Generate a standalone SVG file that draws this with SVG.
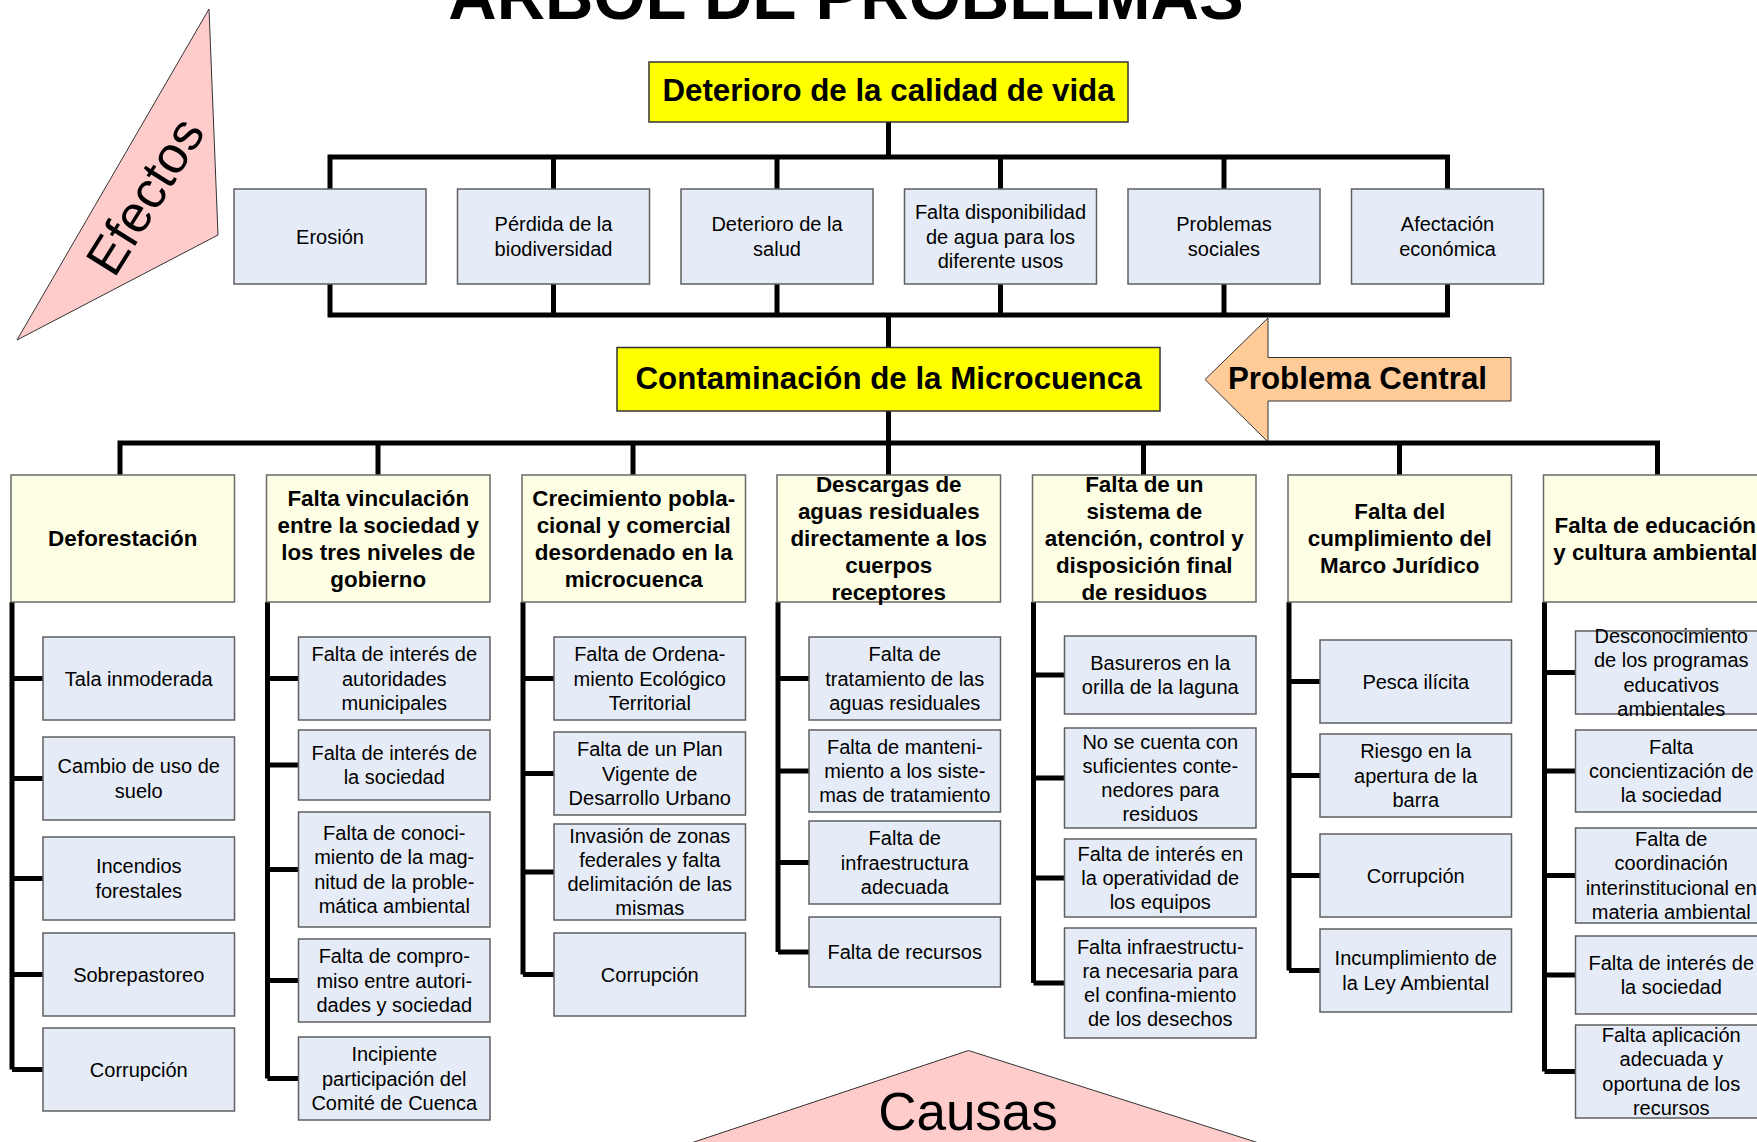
<svg xmlns="http://www.w3.org/2000/svg" width="1757" height="1142" viewBox="0 0 1757 1142">
<style>
text{font-family:"Liberation Sans",Arial,sans-serif;fill:#000;text-anchor:middle}
.eff{fill:#E6ECF7;stroke:#5f5f5f;stroke-width:1.5}
.hdr{fill:#FEFEE4;stroke:#6a6a6a;stroke-width:1.5}
.sub{fill:#E6ECF7;stroke:#5f5f5f;stroke-width:1.5}
.yel{fill:#FFFF00;stroke:#333;stroke-width:1.5}
.t20{font-size:20px}
.th{font-size:22.4px;font-weight:bold}
.tb{font-size:31.3px;font-weight:bold}
.con path{fill:none;stroke:#000;stroke-width:5;stroke-linejoin:miter}
</style>
<rect width="1757" height="1142" fill="#fff"/>

<text id="title" x="846" y="18.5" style="font-size:67px;font-weight:bold">ÁRBOL DE PROBLEMAS</text>

<g id="efectos">
<polygon points="209,9 218,235 17,340" fill="#FFCCCC" stroke="#333" stroke-width="1"/>
<g transform="translate(145,196) rotate(-58)"><text x="0" y="18" style="font-size:52px">Efectos</text></g>
</g>

<g id="causas">
<polygon points="968.5,1050.5 1306,1158 646,1158" fill="#FFCCCC" stroke="#333" stroke-width="1"/>
<text x="968" y="1130" style="font-size:53px">Causas</text>
</g>

<g id="problema-central">
<polygon points="1205,379.5 1268,318 1268,357.5 1511,357.5 1511,401 1268,401 1268,442" fill="#FFCC99" stroke="#333" stroke-width="1"/>
<text class="tb" x="1357.5" y="388.5">Problema Central</text>
</g>

<g class="con" id="connectors">
<path d="M888.5,122 V157"/>
<path d="M330,189 V157 H1447.5 V189"/>
<path d="M553.5,157 V189 M777,157 V189 M1000.5,157 V189 M1224,157 V189"/>
<path d="M330,284 V315 H1447.5 V284"/>
<path d="M553.5,284 V315 M777,284 V315 M1000.5,284 V315 M1224,284 V315"/>
<path d="M888.5,315 V347.5"/>
<path d="M888.5,411 V475"/>
<path d="M120,475 V443 H1657.5 V475"/>
<path d="M378,443 V475 M633,443 V475 M1143.5,443 V475 M1399.5,443 V475"/>
<!-- trunks and stubs -->
<path d="M12,602 V1069.5 M12,678.5 H43 M12,778.5 H43 M12,878.5 H43 M12,974.5 H43 M12,1069.5 H43"/>
<path d="M267.5,602 V1078.5 M267.5,678.5 H298.5 M267.5,765 H298.5 M267.5,869.5 H298.5 M267.5,980.5 H298.5 M267.5,1078.5 H298.5"/>
<path d="M523,602 V974.5 M523,678.5 H554 M523,773.5 H554 M523,872 H554 M523,974.5 H554"/>
<path d="M778,602 V952 M778,678.5 H809 M778,771 H809 M778,862.5 H809 M778,952 H809"/>
<path d="M1033.5,602 V983 M1033.5,675 H1064.5 M1033.5,778 H1064.5 M1033.5,878 H1064.5 M1033.5,983 H1064.5"/>
<path d="M1289,602 V970.5 M1289,681.5 H1320 M1289,775.5 H1320 M1289,875.5 H1320 M1289,970.5 H1320"/>
<path d="M1544.5,602 V1071.5 M1544.5,672.5 H1575.5 M1544.5,771 H1575.5 M1544.5,875.5 H1575.5 M1544.5,975 H1575.5 M1544.5,1071.5 H1575.5"/>
</g>

<g id="n-deterioro-vida">
<rect class="yel" x="649" y="62" width="479" height="60"/>
<text class="tb" x="888.5" y="100.5">Deterioro de la calidad de vida</text>
</g>

<g id="n-contaminacion">
<rect class="yel" x="617" y="347.5" width="543" height="63.5"/>
<text class="tb" x="888.5" y="388.5">Contaminación de la Microcuenca</text>
</g>

<!-- Effects -->
<g id="e-erosion"><rect class="eff" x="234" y="189" width="192" height="95"/>
<text class="t20" x="330" y="243.5">Erosión</text></g>
<g id="e-biodiversidad"><rect class="eff" x="457.5" y="189" width="192" height="95"/>
<text class="t20" x="553.5" y="231.3">Pérdida de la</text><text class="t20" x="553.5" y="255.8">biodiversidad</text></g>
<g id="e-salud"><rect class="eff" x="681" y="189" width="192" height="95"/>
<text class="t20" x="777" y="231.3">Deterioro de la</text><text class="t20" x="777" y="255.8">salud</text></g>
<g id="e-agua"><rect class="eff" x="904.5" y="189" width="192" height="95"/>
<text class="t20" x="1000.5" y="219">Falta disponibilidad</text><text class="t20" x="1000.5" y="243.5">de agua para los</text><text class="t20" x="1000.5" y="268">diferente usos</text></g>
<g id="e-sociales"><rect class="eff" x="1128" y="189" width="192" height="95"/>
<text class="t20" x="1224" y="231.3">Problemas</text><text class="t20" x="1224" y="255.8">sociales</text></g>
<g id="e-economica"><rect class="eff" x="1351.5" y="189" width="192" height="95"/>
<text class="t20" x="1447.5" y="231.3">Afectación</text><text class="t20" x="1447.5" y="255.8">económica</text></g>

<!-- Cause headers -->
<g id="c1"><rect class="hdr" x="11" y="475" width="223.5" height="127"/>
<text class="th" x="122.75" y="546.3">Deforestación</text></g>
<g id="c2"><rect class="hdr" x="266.5" y="475" width="223.5" height="127"/>
<text class="th" x="378.25" y="505.8">Falta vinculación</text><text class="th" x="378.25" y="532.8">entre la sociedad y</text><text class="th" x="378.25" y="559.8">los tres niveles de</text><text class="th" x="378.25" y="586.8">gobierno</text></g>
<g id="c3"><rect class="hdr" x="522" y="475" width="223.5" height="127"/>
<text class="th" x="633.75" y="505.8">Crecimiento pobla-</text><text class="th" x="633.75" y="532.8">cional y comercial</text><text class="th" x="633.75" y="559.8">desordenado en la</text><text class="th" x="633.75" y="586.8">microcuenca</text></g>
<g id="c4"><rect class="hdr" x="777" y="475" width="223.5" height="127"/>
<text class="th" x="888.75" y="492.3">Descargas de</text><text class="th" x="888.75" y="519.3">aguas residuales</text><text class="th" x="888.75" y="546.3">directamente a los</text><text class="th" x="888.75" y="573.3">cuerpos</text><text class="th" x="888.75" y="600.3">receptores</text></g>
<g id="c5"><rect class="hdr" x="1032.5" y="475" width="223.5" height="127"/>
<text class="th" x="1144.25" y="492.3">Falta de un</text><text class="th" x="1144.25" y="519.3">sistema de</text><text class="th" x="1144.25" y="546.3">atención, control y</text><text class="th" x="1144.25" y="573.3">disposición final</text><text class="th" x="1144.25" y="600.3">de residuos</text></g>
<g id="c6"><rect class="hdr" x="1288" y="475" width="223.5" height="127"/>
<text class="th" x="1399.75" y="519.3">Falta del</text><text class="th" x="1399.75" y="546.3">cumplimiento del</text><text class="th" x="1399.75" y="573.3">Marco Jurídico</text></g>
<g id="c7"><rect class="hdr" x="1543.5" y="475" width="223.5" height="127"/>
<text class="th" x="1655.25" y="532.8">Falta de educación</text><text class="th" x="1655.25" y="559.8">y cultura ambiental</text></g>

<!-- Column 1 -->
<g id="c1-1"><rect class="sub" x="43" y="637" width="191.5" height="83"/><text class="t20" x="138.75" y="685.5">Tala inmoderada</text></g>
<g id="c1-2"><rect class="sub" x="43" y="737" width="191.5" height="83"/><text class="t20" x="138.75" y="773.35">Cambio de uso de</text><text class="t20" x="138.75" y="797.65">suelo</text></g>
<g id="c1-3"><rect class="sub" x="43" y="837" width="191.5" height="83"/><text class="t20" x="138.75" y="873.35">Incendios</text><text class="t20" x="138.75" y="897.65">forestales</text></g>
<g id="c1-4"><rect class="sub" x="43" y="933" width="191.5" height="83"/><text class="t20" x="138.75" y="981.5">Sobrepastoreo</text></g>
<g id="c1-5"><rect class="sub" x="43" y="1028" width="191.5" height="83"/><text class="t20" x="138.75" y="1076.5">Corrupción</text></g>

<!-- Column 2 -->
<g id="c2-1"><rect class="sub" x="298.5" y="637" width="191.5" height="83"/><text class="t20" x="394.25" y="661.2">Falta de interés de</text><text class="t20" x="394.25" y="685.5">autoridades</text><text class="t20" x="394.25" y="709.8">municipales</text></g>
<g id="c2-2"><rect class="sub" x="298.5" y="730" width="191.5" height="70"/><text class="t20" x="394.25" y="759.85">Falta de interés de</text><text class="t20" x="394.25" y="784.15">la sociedad</text></g>
<g id="c2-3"><rect class="sub" x="298.5" y="812" width="191.5" height="115"/><text class="t20" x="394.25" y="840.05">Falta de conoci-</text><text class="t20" x="394.25" y="864.35">miento de la mag-</text><text class="t20" x="394.25" y="888.65">nitud de la proble-</text><text class="t20" x="394.25" y="912.95">mática ambiental</text></g>
<g id="c2-4"><rect class="sub" x="298.5" y="939" width="191.5" height="83"/><text class="t20" x="394.25" y="963.2">Falta de compro-</text><text class="t20" x="394.25" y="987.5">miso entre autori-</text><text class="t20" x="394.25" y="1011.8">dades y sociedad</text></g>
<g id="c2-5"><rect class="sub" x="298.5" y="1037" width="191.5" height="83"/><text class="t20" x="394.25" y="1061.2">Incipiente</text><text class="t20" x="394.25" y="1085.5">participación del</text><text class="t20" x="394.25" y="1109.8">Comité de Cuenca</text></g>

<!-- Column 3 -->
<g id="c3-1"><rect class="sub" x="554" y="637" width="191.5" height="83"/><text class="t20" x="649.75" y="661.2">Falta de Ordena-</text><text class="t20" x="649.75" y="685.5">miento Ecológico</text><text class="t20" x="649.75" y="709.8">Territorial</text></g>
<g id="c3-2"><rect class="sub" x="554" y="732" width="191.5" height="83"/><text class="t20" x="649.75" y="756.2">Falta de un Plan</text><text class="t20" x="649.75" y="780.5">Vigente de</text><text class="t20" x="649.75" y="804.8">Desarrollo Urbano</text></g>
<g id="c3-3"><rect class="sub" x="554" y="824" width="191.5" height="96"/><text class="t20" x="649.75" y="842.55">Invasión de zonas</text><text class="t20" x="649.75" y="866.85">federales y falta</text><text class="t20" x="649.75" y="891.15">delimitación de las</text><text class="t20" x="649.75" y="915.45">mismas</text></g>
<g id="c3-4"><rect class="sub" x="554" y="933" width="191.5" height="83"/><text class="t20" x="649.75" y="981.5">Corrupción</text></g>

<!-- Column 4 -->
<g id="c4-1"><rect class="sub" x="809" y="637" width="191.5" height="83"/><text class="t20" x="904.75" y="661.2">Falta de</text><text class="t20" x="904.75" y="685.5">tratamiento de las</text><text class="t20" x="904.75" y="709.8">aguas residuales</text></g>
<g id="c4-2"><rect class="sub" x="809" y="730" width="191.5" height="82"/><text class="t20" x="904.75" y="753.7">Falta de manteni-</text><text class="t20" x="904.75" y="778">miento a los siste-</text><text class="t20" x="904.75" y="802.3">mas de tratamiento</text></g>
<g id="c4-3"><rect class="sub" x="809" y="821" width="191.5" height="83"/><text class="t20" x="904.75" y="845.2">Falta de</text><text class="t20" x="904.75" y="869.5">infraestructura</text><text class="t20" x="904.75" y="893.8">adecuada</text></g>
<g id="c4-4"><rect class="sub" x="809" y="917" width="191.5" height="70"/><text class="t20" x="904.75" y="959">Falta de recursos</text></g>

<!-- Column 5 -->
<g id="c5-1"><rect class="sub" x="1064.5" y="636" width="191.5" height="78"/><text class="t20" x="1160.25" y="669.85">Basureros en la</text><text class="t20" x="1160.25" y="694.15">orilla de la laguna</text></g>
<g id="c5-2"><rect class="sub" x="1064.5" y="728" width="191.5" height="100"/><text class="t20" x="1160.25" y="748.55">No se cuenta con</text><text class="t20" x="1160.25" y="772.85">suficientes conte-</text><text class="t20" x="1160.25" y="797.15">nedores para</text><text class="t20" x="1160.25" y="821.45">residuos</text></g>
<g id="c5-3"><rect class="sub" x="1064.5" y="839" width="191.5" height="78"/><text class="t20" x="1160.25" y="860.7">Falta de interés en</text><text class="t20" x="1160.25" y="885">la operatividad de</text><text class="t20" x="1160.25" y="909.3">los equipos</text></g>
<g id="c5-4"><rect class="sub" x="1064.5" y="928" width="191.5" height="110"/><text class="t20" x="1160.25" y="953.55">Falta infraestructu-</text><text class="t20" x="1160.25" y="977.85">ra necesaria para</text><text class="t20" x="1160.25" y="1002.15">el confina-miento</text><text class="t20" x="1160.25" y="1026.45">de los desechos</text></g>

<!-- Column 6 -->
<g id="c6-1"><rect class="sub" x="1320" y="640" width="191.5" height="83"/><text class="t20" x="1415.75" y="688.5">Pesca ilícita</text></g>
<g id="c6-2"><rect class="sub" x="1320" y="734" width="191.5" height="83"/><text class="t20" x="1415.75" y="758.2">Riesgo en la</text><text class="t20" x="1415.75" y="782.5">apertura de la</text><text class="t20" x="1415.75" y="806.8">barra</text></g>
<g id="c6-3"><rect class="sub" x="1320" y="834" width="191.5" height="83"/><text class="t20" x="1415.75" y="882.5">Corrupción</text></g>
<g id="c6-4"><rect class="sub" x="1320" y="929" width="191.5" height="83"/><text class="t20" x="1415.75" y="965.35">Incumplimiento de</text><text class="t20" x="1415.75" y="989.65">la Ley Ambiental</text></g>

<!-- Column 7 -->
<g id="c7-1"><rect class="sub" x="1575.5" y="631" width="191.5" height="83"/><text class="t20" x="1671.25" y="643.05">Desconocimiento</text><text class="t20" x="1671.25" y="667.35">de los programas</text><text class="t20" x="1671.25" y="691.65">educativos</text><text class="t20" x="1671.25" y="715.95">ambientales</text></g>
<g id="c7-2"><rect class="sub" x="1575.5" y="730" width="191.5" height="82"/><text class="t20" x="1671.25" y="753.7">Falta</text><text class="t20" x="1671.25" y="778">concientización de</text><text class="t20" x="1671.25" y="802.3">la sociedad</text></g>
<g id="c7-3"><rect class="sub" x="1575.5" y="828" width="191.5" height="95"/><text class="t20" x="1671.25" y="846.05">Falta de</text><text class="t20" x="1671.25" y="870.35">coordinación</text><text class="t20" x="1671.25" y="894.65">interinstitucional en</text><text class="t20" x="1671.25" y="918.95">materia ambiental</text></g>
<g id="c7-4"><rect class="sub" x="1575.5" y="936" width="191.5" height="78"/><text class="t20" x="1671.25" y="969.85">Falta de interés de</text><text class="t20" x="1671.25" y="994.15">la sociedad</text></g>
<g id="c7-5"><rect class="sub" x="1575.5" y="1025" width="191.5" height="93"/><text class="t20" x="1671.25" y="1042.05">Falta aplicación</text><text class="t20" x="1671.25" y="1066.35">adecuada y</text><text class="t20" x="1671.25" y="1090.65">oportuna de los</text><text class="t20" x="1671.25" y="1114.95">recursos</text></g>
</svg>
